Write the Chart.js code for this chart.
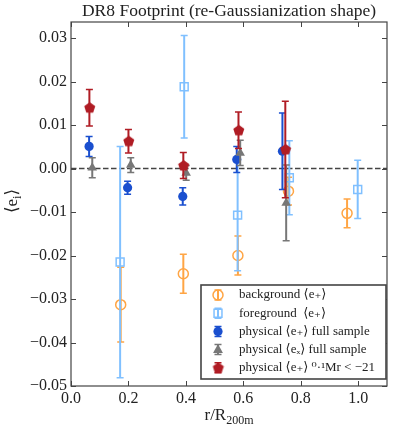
<html>
<head>
<meta charset="utf-8" />
<title>DR8 Footprint</title>
<script src="https://cdn.jsdelivr.net/npm/chart.js"></script>
<style>
  body { margin: 0; background: white; }
  canvas { display: block; }
</style>
</head>
<body>
<canvas id="myChart" width="399" height="429"></canvas>
<script>
// values
const bgX = [0.173, 0.391, 0.581, 0.757, 0.961];
const bgY = [-0.0313, -0.0242, -0.0200, -0.0052, -0.0103];
const bgErr = [0.0086, 0.0045, 0.0045, 0.0032, 0.0033];

const fgX = [0.171, 0.394, 0.580, 0.760, 0.998];
const fgY = [-0.0215, 0.0188, -0.0107, -0.0021, -0.0048];
const fgErr = [0.0266, 0.0118, 0.0128, 0.0085, 0.0067];

const physX = [0.063, 0.197, 0.389, 0.577, 0.736];
const physY = [0.0051, -0.0044, -0.0064, 0.0021, 0.0040];
const physErr = [0.0023, 0.0015, 0.0020, 0.0030, 0.0088];

const crossX = [0.074, 0.208, 0.401, 0.589, 0.749];
const crossY = [0.0002, 0.0008, -0.0010, 0.0036, -0.0079];
const crossErr = [0.0023, 0.0017, 0.0017, 0.0029, 0.0087];

const brightX = [0.064, 0.200, 0.391, 0.583, 0.746];
const brightY = [0.0140, 0.0063, 0.0007, 0.0088, 0.0044];
const brightErr = [0.0042, 0.0027, 0.0030, 0.0042, 0.0111];

const seriesLabels = [
  "background \u27E8e\u208A\u27E9",
  "foreground  \u27E8e\u208A\u27E9",
  "physical \u27E8e\u208A\u27E9 full sample",
  "physical \u27E8e\u2093\u27E9 full sample",
  "physical \u27E8e\u208A\u27E9 \u2070\u00B7\u00B9Mr < \u221221"
];
const xTicks = [0.0, 0.2, 0.4, 0.6, 0.8, 1.0];
const yTicks = [-0.05, -0.04, -0.03, -0.02, -0.01, 0.00, 0.01, 0.02, 0.03];
const xTitle = ["r/R", "200m"];
const yTitle = ["\u27E8e", "i", "\u27E9"];

const cOrange = "#ffa544";
const cLight = "#80c0ff";
const cBlue = "#1a4fcf";
const cGray = "#777777";
const cRed = "#b01c24";
const serif = "'Liberation Serif', 'DejaVu Serif', serif";

function pts(xs, ys) {
  return xs.map((x, i) => ({x: x, y: ys[i]}));
}

// pentagon marker, chart.js has none
function pentagon(r, color) {
  const c = document.createElement("canvas");
  c.width = 2 * r + 2; c.height = 2 * r + 2;
  const g = c.getContext("2d");
  g.fillStyle = color;
  g.beginPath();
  for (let k = 0; k < 5; k++) {
    const a = -Math.PI / 2 + k * 2 * Math.PI / 5;
    g.lineTo(r + 1 + r * Math.cos(a), r + 1 + r * Math.sin(a));
  }
  g.closePath();
  g.fill();
  return c;
}
const penta = pentagon(5.8, cRed);

const mk = [
  {style: "circle", color: cOrange, fill: false, r: 5},
  {style: "rect", color: cLight, fill: false, r: 5.6},
  {style: "circle", color: cBlue, fill: true, r: 4.6},
  {style: "triangle", color: cGray, fill: true, r: 5.5},
  {style: "penta", color: cRed, fill: true, r: 5.8}
];

function drawMarker(ctx, m, x, y) {
  ctx.save();
  ctx.strokeStyle = m.color;
  ctx.fillStyle = m.color;
  ctx.lineWidth = 1.5;
  ctx.beginPath();
  if (m.style == "circle") {
    ctx.arc(x, y, m.r, 0, 2 * Math.PI);
  } else if (m.style == "rect") {
    const s = m.r * Math.SQRT1_2;
    ctx.rect(x - s, y - s, 2 * s, 2 * s);
  } else if (m.style == "triangle") {
    const r = m.r;
    ctx.moveTo(x, y - r);
    ctx.lineTo(x + r * 0.9, y + r * 0.6);
    ctx.lineTo(x - r * 0.9, y + r * 0.6);
    ctx.closePath();
  } else {
    ctx.drawImage(penta, x - penta.width / 2, y - penta.height / 2);
    ctx.restore();
    return;
  }
  if (m.fill) ctx.fill(); else ctx.stroke();
  ctx.restore();
}

function vbar(ctx, color, x, y0, y1) {
  ctx.save();
  ctx.strokeStyle = color;
  ctx.lineWidth = 2;
  ctx.beginPath();
  ctx.moveTo(x, y0); ctx.lineTo(x, y1);
  ctx.stroke();
  ctx.lineWidth = 1.5;
  ctx.beginPath();
  ctx.moveTo(x - 3.5, y0); ctx.lineTo(x + 3.5, y0);
  ctx.moveTo(x - 3.5, y1); ctx.lineTo(x + 3.5, y1);
  ctx.stroke();
  ctx.restore();
}

const errorBars = {
  id: "errorBars",
  beforeDatasetDraw(chart, args) {
    const ds = chart.data.datasets[args.index];
    if (!ds.errors) return;
    const xs = chart.scales.x, ys = chart.scales.y;
    const ctx = chart.ctx;
    ctx.save();
    ctx.beginPath();
    ctx.rect(chart.chartArea.left, chart.chartArea.top, chart.chartArea.width, chart.chartArea.height);
    ctx.clip();
    ds.data.forEach((p, i) => {
      const px = xs.getPixelForValue(p.x);
      vbar(ctx, ds.borderColor, px,
           ys.getPixelForValue(p.y + ds.errors[i]),
           ys.getPixelForValue(p.y - ds.errors[i]));
    });
    ctx.restore();
  }
};

// text with a lowered subscript part, centred on x
function subText(ctx, parts, x, y, big, small) {
  const fonts = parts.map((p, i) => (i == 1 ? small : big) + "px " + serif);
  let w = 0;
  parts.forEach((p, i) => { ctx.font = fonts[i]; w += ctx.measureText(p).width; });
  let cx = x - w / 2;
  parts.forEach((p, i) => {
    ctx.font = fonts[i];
    ctx.fillText(p, cx, i == 1 ? y + 4 : y);
    cx += ctx.measureText(p).width;
  });
}

const frameAndLegend = {
  id: "frameAndLegend",
  afterDraw(chart) {
    const ctx = chart.ctx;
    const ca = chart.chartArea;
    const xs = chart.scales.x, ys = chart.scales.y;
    ctx.save();
    ctx.strokeStyle = "#444";
    ctx.lineWidth = 1;
    // inward ticks on all four sides
    ctx.beginPath();
    xTicks.forEach(v => {
      const px = Math.round(xs.getPixelForValue(v)) + 0.5;
      ctx.moveTo(px, ca.bottom); ctx.lineTo(px, ca.bottom - 5);
      ctx.moveTo(px, ca.top); ctx.lineTo(px, ca.top + 5);
    });
    yTicks.forEach(v => {
      const py = Math.round(ys.getPixelForValue(v)) + 0.5;
      ctx.moveTo(ca.left, py); ctx.lineTo(ca.left + 5, py);
      ctx.moveTo(ca.right, py); ctx.lineTo(ca.right - 5, py);
    });
    ctx.stroke();
    ctx.lineWidth = 1.2;
    ctx.strokeRect(ca.left, ca.top, ca.width, ca.height);

    // axis titles
    ctx.fillStyle = "#222";
    ctx.textAlign = "left";
    ctx.textBaseline = "alphabetic";
    subText(ctx, xTitle, (ca.left + ca.right) / 2, 420, 17, 12);
    ctx.save();
    ctx.translate(17, (ca.top + ca.bottom) / 2 - 3);
    ctx.rotate(-Math.PI / 2);
    subText(ctx, yTitle, 0, 0, 17, 12);
    ctx.restore();

    // legend box, lower right inside the axes
    const bx = ca.right - 186, by = ca.bottom - 101, bw = 185, bh = 94;
    ctx.fillStyle = "white";
    ctx.fillRect(bx, by, bw, bh);
    ctx.lineWidth = 1.6;
    ctx.strokeStyle = "#444";
    ctx.strokeRect(bx, by, bw, bh);
    ctx.font = "13px " + serif;
    ctx.textAlign = "left";
    ctx.textBaseline = "middle";
    seriesLabels.forEach((lab, i) => {
      const y = by + 10 + i * 18.2;
      vbar(ctx, mk[i].color, bx + 17, y - 5, y + 5);
      drawMarker(ctx, mk[i], bx + 17, y);
      ctx.fillStyle = "#222";
      ctx.fillText(lab, bx + 38, y);
    });
    ctx.restore();
  }
};

function ds(label, xs, ys, errs, m, order) {
  return {
    label: label,
    data: pts(xs, ys),
    errors: errs,
    order: order,
    borderColor: m.color,
    backgroundColor: m.fill ? m.color : "rgba(0,0,0,0)",
    pointStyle: m.style == "penta" ? penta : m.style,
    pointRadius: m.r,
    pointBorderWidth: m.fill ? 0 : 1.5,
    pointHoverRadius: m.r
  };
}

const ctx = document.getElementById("myChart").getContext("2d");
const myChart = new Chart(ctx, {
  type: "scatter",
  data: {
    datasets: [
      {
        type: "line",
        label: "zero",
        data: [{x: 0, y: 0}, {x: 1.1, y: 0}],
        borderColor: "#444",
        borderWidth: 1.5,
        borderDash: [5.5, 2.5],
        pointRadius: 0,
        order: 10
      },
      ds(seriesLabels[0], bgX, bgY, bgErr, mk[0], 5),
      ds(seriesLabels[1], fgX, fgY, fgErr, mk[1], 4),
      ds(seriesLabels[2], physX, physY, physErr, mk[2], 3),
      ds(seriesLabels[3], crossX, crossY, crossErr, mk[3], 2),
      ds(seriesLabels[4], brightX, brightY, brightErr, mk[4], 1)
    ]
  },
  options: {
    responsive: false,
    animation: false,
    devicePixelRatio: 1,
    layout: { padding: { left: 0, right: 12, top: 0, bottom: 0 } },
    plugins: {
      legend: { display: false },
      tooltip: { enabled: false },
      title: {
        display: true,
        fullSize: false,
        text: "DR8 Footprint (re-Gaussianization shape)",
        color: "#222",
        font: { family: serif, size: 17.5, weight: "normal", lineHeight: 1.2 },
        padding: { top: 1, bottom: 0 }
      }
    },
    scales: {
      x: {
        type: "linear",
        min: 0, max: 1.1,
        afterFit: s => { s.height = 43; },
        afterBuildTicks: s => { s.ticks = xTicks.map(v => ({value: v})); },
        grid: { display: false, drawTicks: false },
        border: { display: false },
        ticks: {
          color: "#222",
          padding: 3,
          font: { family: serif, size: 16 },
          callback: v => v.toFixed(1)
        }
      },
      y: {
        type: "linear",
        min: -0.05, max: 0.0337,
        afterFit: s => { s.width = 71; },
        afterBuildTicks: s => { s.ticks = yTicks.map(v => ({value: v})); },
        grid: { display: false, drawTicks: false },
        border: { display: false },
        ticks: {
          color: "#222",
          padding: 4,
          font: { family: serif, size: 16 },
          callback: v => v.toFixed(2).replace("-", "\u2212")
        }
      }
    }
  },
  plugins: [errorBars, frameAndLegend]
});
</script>
</body>
</html>
